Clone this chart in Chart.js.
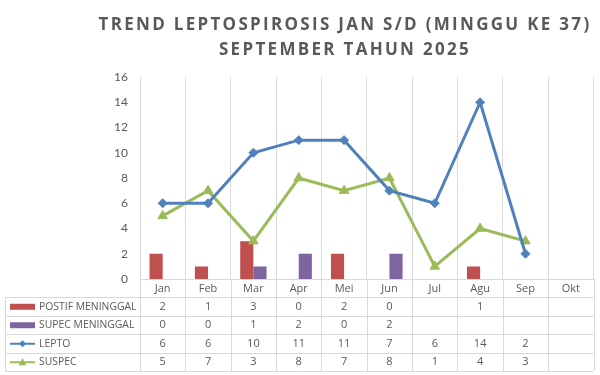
<!DOCTYPE html>
<html>
<head>
<meta charset="utf-8">
<script src="https://cdn.jsdelivr.net/npm/chart.js"></script>
<style>
  html, body { margin: 0; padding: 0; background: #fff; }
  #wrap { position: relative; width: 600px; height: 375px; }
  #title { position: absolute; left: 90px; width: 510px; top: 11px; text-align: center;
    font-family: 'Open Sans', sans-serif; font-weight: bold; font-size: 17px; line-height: 25px;
    letter-spacing: 2.3px; color: #595959; }
</style>
</head>
<body>
<div id="wrap">
  <canvas id="chart"></canvas>
  <div id="title">TREND LEPTOSPIROSIS JAN S/D (MINGGU KE 37)<br>SEPTEMBER TAHUN 2025</div>
</div>
<script>
const months = ['Jan', 'Feb', 'Mar', 'Apr', 'Mei', 'Jun', 'Jul', 'Agu', 'Sep', 'Okt'];
const positifMeninggal = [2, 1, 3, 0, 2, 0, null, 1, null, null];
const supecMeninggal = [0, 0, 1, 2, 0, 2, null, null, null, null];
const lepto = [6, 6, 10, 11, 11, 7, 6, 14, 2, null];
const suspec = [5, 7, 3, 8, 7, 8, 1, 4, 3, null];

const TEXT = '#595959';
const GRID = '#d9d9d9';
const FONT = "11px 'Open Sans', sans-serif";
const LABEL_FONT = "10.4px 'Open Sans', sans-serif";

// data table drawn under the plot, columns follow the x scale
const dataTable = {
  id: 'dataTable',
  afterDraw(chart) {
    const { ctx, chartArea, scales: { x } } = chart;
    const top = chartArea.bottom;
    const headH = 18, rowH = 18.5, left = 5;
    const bodyTop = top + headH;
    const bottom = bodyTop + rowH * 4;
    const half = (x.getPixelForTick(1) - x.getPixelForTick(0)) / 2;
    ctx.save();
    ctx.strokeStyle = GRID;
    ctx.lineWidth = 1;
    // vertical lines
    ctx.beginPath();
    for (let i = 0; i <= months.length; i++) {
      const px = Math.round(i < months.length ? x.getPixelForTick(i) - half : x.getPixelForTick(i - 1) + half) + 0.5;
      ctx.moveTo(px, top);
      ctx.lineTo(px, bottom);
    }
    ctx.moveTo(left + 0.5, bodyTop);
    ctx.lineTo(left + 0.5, bottom);
    // horizontal lines
    for (let r = 0; r <= 4; r++) {
      const py = Math.round(bodyTop + r * rowH) + 0.5;
      ctx.moveTo(left, py);
      ctx.lineTo(chartArea.right, py);
    }
    ctx.stroke();

    ctx.font = FONT;
    ctx.fillStyle = TEXT;
    ctx.textAlign = 'center';
    ctx.textBaseline = 'middle';
    months.forEach((m, i) => ctx.fillText(m, x.getPixelForTick(i), top + headH / 2 + 1));

    chart.data.datasets.forEach((ds, r) => {
      const cy = bodyTop + r * rowH + rowH / 2 + 0.5;
      ctx.font = FONT;
      ctx.textAlign = 'center';
      ctx.fillStyle = TEXT;
      ds.data.forEach((v, i) => {
        if (v !== null) ctx.fillText(String(v), x.getPixelForTick(i), cy);
      });
      // legend key
      if (ds.type === 'bar') {
        ctx.fillStyle = ds.backgroundColor;
        ctx.fillRect(10, cy - 3, 25, 6);
      } else {
        ctx.strokeStyle = ds.borderColor;
        ctx.lineWidth = 2;
        ctx.beginPath();
        ctx.moveTo(10, cy);
        ctx.lineTo(35, cy);
        ctx.stroke();
        ctx.fillStyle = ds.borderColor;
        ctx.beginPath();
        if (ds.pointStyle === 'rectRot') {
          ctx.moveTo(22.5, cy - 3.5); ctx.lineTo(26, cy); ctx.lineTo(22.5, cy + 3.5); ctx.lineTo(19, cy);
        } else {
          ctx.moveTo(22.5, cy - 4); ctx.lineTo(26.5, cy + 3); ctx.lineTo(18.5, cy + 3);
        }
        ctx.closePath();
        ctx.fill();
      }
      ctx.fillStyle = TEXT;
      ctx.font = LABEL_FONT;
      ctx.textAlign = 'left';
      ctx.fillText(ds.label, 39, cy);
    });
    ctx.restore();
  }
};

new Chart(document.getElementById('chart'), {
  data: {
    labels: months,
    datasets: [
      { type: 'bar', label: 'POSTIF MENINGGAL', data: positifMeninggal, backgroundColor: '#C0504D',
        barPercentage: 1, categoryPercentage: 0.58, order: 2 },
      { type: 'bar', label: 'SUPEC MENINGGAL', data: supecMeninggal, backgroundColor: '#8064A2',
        barPercentage: 1, categoryPercentage: 0.58, order: 2 },
      { type: 'line', label: 'LEPTO', data: lepto, borderColor: '#4F81BD', backgroundColor: '#4F81BD',
        borderWidth: 3, pointStyle: 'rectRot', pointRadius: 4.5, pointBorderWidth: 1, tension: 0, order: 0 },
      { type: 'line', label: 'SUSPEC', data: suspec, borderColor: '#9BBB59', backgroundColor: '#9BBB59',
        borderWidth: 3, pointStyle: 'triangle', pointRadius: 5.5, pointBorderWidth: 1, tension: 0, order: 1 }
    ]
  },
  options: {
    responsive: true,
    maintainAspectRatio: false,
    animation: false,
    layout: { padding: { top: 77, right: 2, bottom: 96, left: 0 } },
    plugins: { legend: { display: false }, title: { display: false }, tooltip: { enabled: false } },
    scales: {
      x: {
        offset: true,
        grid: { display: true, offset: true, color: GRID, drawTicks: false },
        border: { display: true, color: GRID },
        ticks: { display: false },
        afterFit(scale) { scale.height = 0; }
      },
      y: {
        min: 0, max: 16,
        ticks: { stepSize: 2, color: TEXT, font: { family: 'Lato', size: 12 }, padding: 12 },
        grid: { display: false, drawTicks: false },
        border: { display: false },
        afterFit(scale) { scale.width = 140; }
      }
    }
  },
  plugins: [dataTable]
});
</script>
</body>
</html>
